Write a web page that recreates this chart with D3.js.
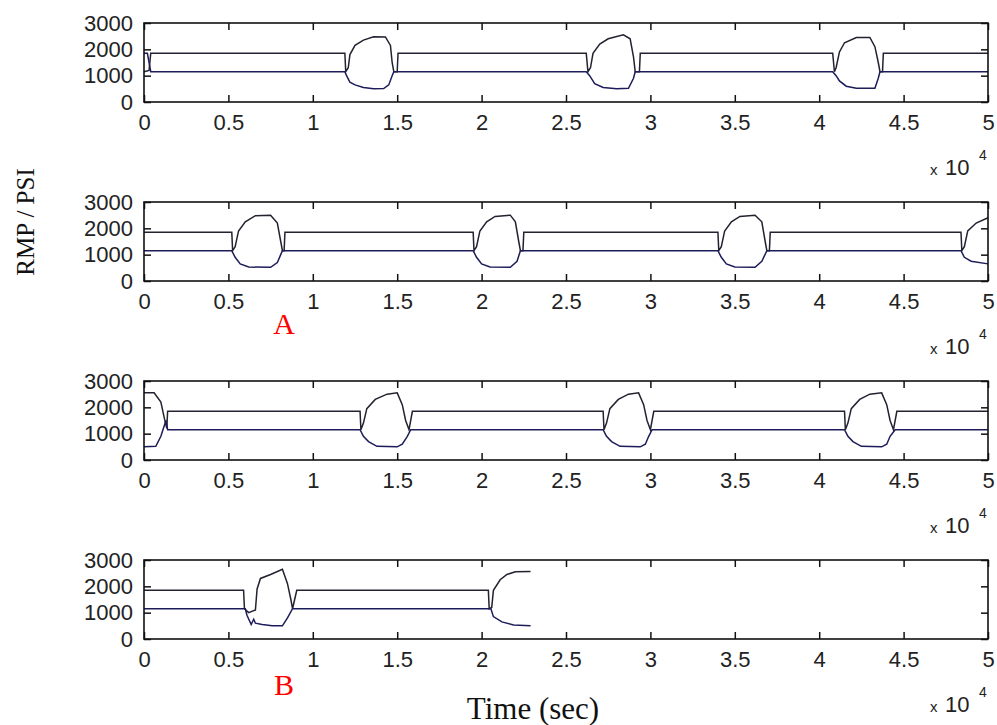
<!DOCTYPE html>
<html>
<head>
<meta charset="utf-8">
<script src="https://cdn.jsdelivr.net/npm/d3@7"></script>
<style>
  body { margin: 0; background: #fff; }
  svg { display: block; }
</style>
</head>
<body>
<div id="chart"></div>
<script>
// Tick values (time in units of 1e4 sec)
const xTicks = [0, 0.5, 1, 1.5, 2, 2.5, 3, 3.5, 4, 4.5, 5];
const yTicks = [0, 1000, 2000, 3000];

// Panel 1
const upper1 = [[0,1150],[0.03,1200],[0.04,1850],
  [1.19,1850],[1.195,1150],[1.21,1300],[1.22,1800],[1.25,2150],[1.30,2350],[1.36,2480],[1.43,2470],[1.46,2150],[1.47,1500],[1.48,1150],[1.50,1150],[1.505,1850],
  [2.62,1850],[2.63,1150],[2.645,1300],[2.66,1850],[2.70,2200],[2.75,2400],[2.84,2550],[2.88,2400],[2.90,1700],[2.91,1150],[2.935,1150],[2.94,1850],
  [4.08,1850],[4.09,1150],[4.10,1300],[4.12,1900],[4.15,2250],[4.22,2450],[4.30,2450],[4.33,2100],[4.35,1500],[4.36,1150],[4.375,1150],[4.38,1850],
  [5,1850]];
const lower1 = [[0,1850],[0.02,1850],[0.04,1150],
  [1.19,1150],[1.20,1000],[1.22,750],[1.25,650],[1.30,550],[1.36,500],[1.42,510],[1.45,650],[1.47,1000],[1.48,1150],
  [2.62,1150],[2.64,1000],[2.67,700],[2.72,550],[2.80,500],[2.87,520],[2.90,900],[2.91,1150],
  [4.08,1150],[4.10,1000],[4.12,800],[4.16,600],[4.22,520],[4.33,520],[4.35,900],[4.36,1150],
  [5,1150]];

// Panel 2
const upper2 = [[0,1850],
  [0.52,1850],[0.525,1150],[0.54,1300],[0.56,1900],[0.60,2250],[0.66,2480],[0.75,2500],[0.79,2200],[0.81,1500],[0.82,1150],[0.83,1150],[0.835,1850],
  [1.95,1850],[1.955,1150],[1.97,1300],[1.99,1900],[2.03,2250],[2.08,2450],[2.17,2500],[2.20,2250],[2.22,1500],[2.23,1150],[2.245,1150],[2.25,1850],
  [3.40,1850],[3.405,1150],[3.42,1300],[3.44,1900],[3.48,2250],[3.53,2450],[3.62,2500],[3.66,2250],[3.68,1500],[3.69,1150],[3.705,1150],[3.71,1850],
  [4.84,1850],[4.845,1150],[4.86,1300],[4.88,1900],[4.93,2200],[5,2400]];
const lower2 = [[0,1150],
  [0.52,1150],[0.54,900],[0.57,650],[0.62,530],[0.75,520],[0.79,700],[0.81,1000],[0.82,1150],
  [1.95,1150],[1.97,900],[2.00,650],[2.05,530],[2.17,520],[2.21,750],[2.23,1150],
  [3.40,1150],[3.42,900],[3.45,650],[3.50,530],[3.62,520],[3.66,750],[3.69,1150],
  [4.84,1150],[4.86,900],[4.90,750],[5,650]];

// Panel 3
const upper3 = [[0,2550],[0.06,2550],[0.10,2200],[0.12,1600],[0.135,1200],[0.14,1850],
  [1.28,1850],[1.285,1150],[1.30,1400],[1.32,1950],[1.37,2300],[1.44,2500],[1.50,2550],[1.53,2100],[1.55,1500],[1.57,1150],[1.59,1850],
  [2.72,1850],[2.725,1150],[2.74,1400],[2.76,1950],[2.81,2300],[2.87,2500],[2.93,2550],[2.96,2100],[2.98,1500],[3.00,1150],[3.02,1850],
  [4.15,1850],[4.155,1150],[4.17,1400],[4.19,1950],[4.24,2300],[4.30,2500],[4.37,2550],[4.40,2100],[4.42,1500],[4.44,1150],[4.46,1850],
  [5,1850]];
const lower3 = [[0,500],[0.07,520],[0.10,900],[0.13,1500],[0.14,1150],
  [1.28,1150],[1.30,900],[1.33,700],[1.38,520],[1.50,500],[1.53,600],[1.56,900],[1.58,1150],
  [2.72,1150],[2.74,900],[2.77,700],[2.82,520],[2.94,500],[2.97,600],[2.99,900],[3.01,1150],
  [4.15,1150],[4.17,900],[4.20,700],[4.25,520],[4.37,500],[4.40,600],[4.42,900],[4.45,1150],
  [5,1150]];

// Panel 4 (record stops at ~2.29)
const upper4 = [[0,1850],
  [0.59,1850],[0.595,1150],[0.62,1000],[0.66,1100],[0.67,1900],[0.69,2300],[0.75,2450],[0.82,2650],[0.85,2100],[0.87,1500],[0.88,1150],[0.905,1850],
  [2.04,1850],[2.045,1150],[2.06,1200],[2.07,1850],[2.11,2250],[2.15,2450],[2.20,2550],[2.29,2560]];
const lower4 = [[0,1150],
  [0.60,1150],[0.61,900],[0.635,550],[0.65,750],[0.66,600],[0.70,550],[0.76,500],[0.82,500],[0.85,800],[0.88,1150],
  [2.04,1150],[2.055,1150],[2.07,850],[2.12,650],[2.19,530],[2.29,500]];

const panelNotes = ['', 'A', '', 'B'];

const panels = [
  { upper: upper1, lower: lower1 },
  { upper: upper2, lower: lower2 },
  { upper: upper3, lower: lower3 },
  { upper: upper4, lower: lower4 }
].map((p, i) => ({ ...p, note: panelNotes[i] }));

const width = 997, height = 725;
const plotLeft = 144, plotRight = 988;
const panelTops = [23, 202, 381, 560];
const panelH = 79;
const tickFont = '"Liberation Sans", Arial, sans-serif';
const serifFont = '"Liberation Serif", "Times New Roman", serif';

const svg = d3.select('#chart')
    .append('svg')
    .attr('width', width)
    .attr('height', height);

const x = d3.scaleLinear().domain([0, 5]).range([plotLeft, plotRight]);

panels.forEach((p, i) => {
    const g = svg.append('g').attr('transform', `translate(0,${panelTops[i]})`);
    const y = d3.scaleLinear().domain([0, 3000]).range([panelH, 0]);

    // Data lines
    const line = d3.line().x(d => x(d[0])).y(d => y(d[1]));
    g.append('path')
        .datum(p.upper)
        .attr('fill', 'none')
        .attr('stroke', '#222230')
        .attr('stroke-width', 1.5)
        .attr('d', line);
    g.append('path')
        .datum(p.lower)
        .attr('fill', 'none')
        .attr('stroke', '#1c1c5a')
        .attr('stroke-width', 1.5)
        .attr('d', line);

    // MATLAB style axes: ticks inside on all four sides
    const bottom = g.append('g')
        .attr('transform', `translate(0,${panelH})`)
        .call(d3.axisBottom(x).tickValues(xTicks).tickFormat(d => d)
            .tickSize(-7).tickSizeOuter(0).tickPadding(12));
    const top = g.append('g')
        .call(d3.axisTop(x).tickValues(xTicks).tickFormat('')
            .tickSize(-7).tickSizeOuter(0));
    const left = g.append('g')
        .attr('transform', `translate(${plotLeft},0)`)
        .call(d3.axisLeft(y).tickValues(yTicks).tickFormat(d => d)
            .tickSize(-7).tickSizeOuter(0).tickPadding(11));
    const right = g.append('g')
        .attr('transform', `translate(${plotRight},0)`)
        .call(d3.axisRight(y).tickValues(yTicks).tickFormat('')
            .tickSize(-7).tickSizeOuter(0));

    [bottom, top, left, right].forEach(a => {
        a.select('.domain').remove();
        a.selectAll('.tick line').attr('stroke', '#111').attr('stroke-width', 1.5);
        a.selectAll('.tick text')
            .attr('fill', '#222')
            .style('font-family', tickFont)
            .style('font-size', '22px');
    });

    // Box
    g.append('rect')
        .attr('x', plotLeft)
        .attr('y', 0)
        .attr('width', plotRight - plotLeft)
        .attr('height', panelH)
        .attr('fill', 'none')
        .attr('stroke', '#111')
        .attr('stroke-width', 1.6);

    // x 10^4 exponent label
    const exp = g.append('text')
        .attr('y', panelH + 73)
        .attr('fill', '#222')
        .style('font-family', tickFont);
    exp.append('tspan').attr('x', 930).style('font-size', '15px').text('x');
    exp.append('tspan').attr('x', 945).style('font-size', '22px').text('10');
    exp.append('tspan').attr('x', 979).attr('dy', -15).style('font-size', '14px').text('4');

    // Red annotation
    if (p.note) {
        g.append('text')
            .attr('x', 284)
            .attr('y', panelH + (i === 3 ? 56 : 53))
            .attr('text-anchor', 'middle')
            .attr('fill', '#ff0000')
            .style('font-family', serifFont)
            .style('font-size', '30px')
            .text(p.note);
    }
});

// Axis titles
svg.append('text')
    .attr('transform', 'translate(34,222) rotate(-90)')
    .attr('text-anchor', 'middle')
    .attr('fill', '#111')
    .style('font-family', serifFont)
    .style('font-size', '25px')
    .text('RMP / PSI');

svg.append('text')
    .attr('x', 533)
    .attr('y', 719)
    .attr('text-anchor', 'middle')
    .attr('fill', '#111')
    .style('font-family', serifFont)
    .style('font-size', '31px')
    .text('Time (sec)');
</script>
</body>
</html>
